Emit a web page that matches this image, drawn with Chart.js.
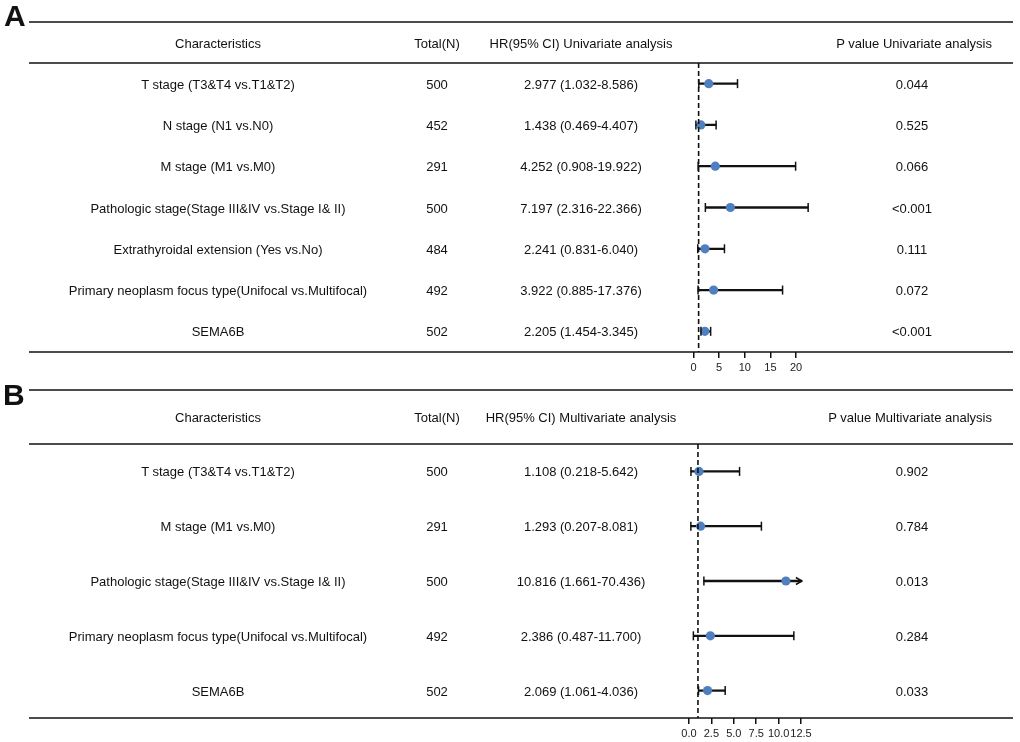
<!DOCTYPE html>
<html>
<head>
<meta charset="utf-8">
<script src="https://cdn.jsdelivr.net/npm/chart.js@4.4.1/dist/chart.umd.min.js"></script>
<style>
  html, body { margin: 0; padding: 0; background: #fff; }
  #page { position: relative; width: 1020px; height: 742px; overflow: hidden;
          font-family: "Liberation Sans", Arial, sans-serif; color: #111; }
  canvas { position: absolute; left: 0; }
  .t { position: absolute; font-size: 13px; white-space: nowrap; transform: translate(-50%, -50%); }
  .t.r { transform: translate(-100%, -50%); }
  .panel { position: absolute; font-size: 30px; font-weight: bold; line-height: 1; }
</style>
</head>
<body>
<div id="page">
  <canvas id="chartA" width="1020" height="385" style="top:0px"></canvas>
  <canvas id="chartB" width="1020" height="362" style="top:380px"></canvas>
  <div class="panel" style="left:4px;top:1px">A</div>
  <div class="panel" style="left:3px;top:380px">B</div>
</div>
<script>
// Panel A - univariate
const labelsA = ["T stage (T3&T4 vs.T1&T2)", "N stage (N1 vs.N0)", "M stage (M1 vs.M0)",
  "Pathologic stage(Stage III&IV vs.Stage I& II)", "Extrathyroidal extension (Yes vs.No)",
  "Primary neoplasm focus type(Unifocal vs.Multifocal)", "SEMA6B"];
const totalA = [500, 452, 291, 500, 484, 492, 502];
const hrA = [2.977, 1.438, 4.252, 7.197, 2.241, 3.922, 2.205];
const lowA = [1.032, 0.469, 0.908, 2.316, 0.831, 0.885, 1.454];
const highA = [8.586, 4.407, 19.922, 22.366, 6.040, 17.376, 3.345];
const pA = ["0.044", "0.525", "0.066", "<0.001", "0.111", "0.072", "<0.001"];
const ticksA = [0, 5, 10, 15, 20];

// Panel B - multivariate
const labelsB = ["T stage (T3&T4 vs.T1&T2)", "M stage (M1 vs.M0)",
  "Pathologic stage(Stage III&IV vs.Stage I& II)",
  "Primary neoplasm focus type(Unifocal vs.Multifocal)", "SEMA6B"];
const totalB = [500, 291, 500, 492, 502];
const hrB = [1.108, 1.293, 10.816, 2.386, 2.069];
const lowB = [0.218, 0.207, 1.661, 0.487, 1.061];
const highB = [5.642, 8.081, 70.436, 11.700, 4.036];
const pB = ["0.902", "0.784", "0.013", "0.284", "0.033"];
const ticksB = [0, 2.5, 5, 7.5, 10, 12.5];

const page = document.getElementById("page");
const ink = "#111";
const dotColor = "#4f7fbf";

// column centres of the table
const colChar = 218, colTotal = 437, colHR = 581, colP = 912, pHeadRight = 992;

function addText(txt, x, y, right) {
  const d = document.createElement("div");
  d.className = right ? "t r" : "t";
  d.textContent = txt;
  d.style.left = x + "px";
  d.style.top = y + "px";
  page.appendChild(d);
  return d;
}

function dibujarPanel(p) {
  let hecho = false;
  const tabla = {
    id: "tabla",
    beforeDraw(chart) {
      const ctx = chart.ctx, a = chart.chartArea;
      ctx.save();
      ctx.strokeStyle = ink;
      ctx.lineWidth = 1.6;
      [p.topLine, a.top, a.bottom].forEach(y => {
        ctx.beginPath();
        ctx.moveTo(29, y);
        ctx.lineTo(1013, y);
        ctx.stroke();
      });
      ctx.restore();
    },
    afterDatasetsDraw(chart) {
      const ctx = chart.ctx, a = chart.chartArea;
      const xs = chart.scales.x, ys = chart.scales.y;
      ctx.save();
      ctx.strokeStyle = ink;
      ctx.fillStyle = ink;
      ctx.lineWidth = 1.5;
      p.low.forEach((lo, i) => {
        const y = ys.getPixelForValue(i);
        const xl = xs.getPixelForValue(lo);
        ctx.beginPath();
        ctx.moveTo(xl, y - 4.5); ctx.lineTo(xl, y + 4.5);
        ctx.stroke();
        const hi = p.high[i];
        if (hi <= xs.max) {
          const xh = xs.getPixelForValue(hi);
          ctx.beginPath();
          ctx.moveTo(xh, y - 4.5); ctx.lineTo(xh, y + 4.5);
          ctx.stroke();
        } else {
          // CI runs off the axis: arrow head
          ctx.beginPath();
          ctx.moveTo(a.right - 6, y - 3.5);
          ctx.lineTo(a.right, y);
          ctx.lineTo(a.right - 6, y + 3.5);
          ctx.stroke();
        }
      });
      const x1 = xs.getPixelForValue(1);
      ctx.setLineDash([5, 3]);
      ctx.lineWidth = 1.6;
      ctx.beginPath();
      ctx.moveTo(x1, a.top);
      ctx.lineTo(x1, a.bottom);
      ctx.stroke();
      ctx.restore();
    },
    afterRender(chart) {
      if (hecho) return;
      hecho = true;
      const a = chart.chartArea, ys = chart.scales.y;
      const hy = p.top + (p.topLine + a.top) / 2;
      addText("Characteristics", colChar, hy);
      addText("Total(N)", colTotal, hy);
      addText(p.hrHead, colHR, hy);
      addText(p.pHead, pHeadRight, hy, true);
      p.labels.forEach((lab, i) => {
        const y = p.top + ys.getPixelForValue(i);
        addText(lab, colChar, y);
        addText(String(p.total[i]), colTotal, y);
        addText(p.hr[i].toFixed(3) + " (" + p.low[i].toFixed(3) + "-" + p.high[i].toFixed(3) + ")", colHR, y);
        addText(p.p[i], colP, y);
      });
    }
  };

  const ctx = document.getElementById(p.id).getContext("2d");
  return new Chart(ctx, {
    type: "bar",
    data: {
      labels: p.labels,
      datasets: [
        {
          type: "bar",
          data: p.low.map((lo, i) => [lo, p.high[i]]),
          backgroundColor: ink,
          barThickness: 1.6,
          borderWidth: 0,
          clip: 0,
          order: 2
        },
        {
          type: "scatter",
          data: p.hr.map((v, i) => ({ x: v, y: i })),
          backgroundColor: dotColor,
          borderWidth: 0,
          pointRadius: 4.6,
          order: 1
        }
      ]
    },
    options: {
      indexAxis: "y",
      responsive: false,
      animation: false,
      events: [],
      layout: { padding: { left: p.left, right: 1020 - p.right, top: p.areaTop, bottom: p.padBottom } },
      plugins: { legend: { display: false }, tooltip: { enabled: false } },
      scales: {
        y: { type: "category", display: false, offset: true },
        x: {
          type: "linear",
          min: 0,
          max: p.xMax,
          border: { display: false },
          grid: { drawOnChartArea: false, drawTicks: true, tickLength: 6, color: ink, lineWidth: 1.5 },
          afterBuildTicks: s => { s.ticks = p.ticks.map(v => ({ value: v })); },
          afterFit: s => { s.height = p.axisH; },
          ticks: {
            color: "#222",
            padding: 3,
            autoSkip: false,
            maxRotation: 0,
            minRotation: 0,
            font: { family: "'Liberation Sans', Arial, sans-serif", size: 11 },
            callback: v => p.decimals ? Number(v).toFixed(1) : String(v)
          }
        }
      }
    },
    plugins: [tabla]
  });
}

dibujarPanel({
  id: "chartA", top: 0, topLine: 22, areaTop: 63, padBottom: 8, axisH: 25,
  left: 693.5, right: 811.4, xMax: 23, decimals: false,
  labels: labelsA, total: totalA, hr: hrA, low: lowA, high: highA, p: pA, ticks: ticksA,
  hrHead: "HR(95% CI) Univariate analysis", pHead: "P value Univariate analysis"
});

dibujarPanel({
  id: "chartB", top: 380, topLine: 10, areaTop: 64, padBottom: 0, axisH: 24,
  left: 689, right: 801.9, xMax: 12.6, decimals: true,
  labels: labelsB, total: totalB, hr: hrB, low: lowB, high: highB, p: pB, ticks: ticksB,
  hrHead: "HR(95% CI) Multivariate analysis", pHead: "P value Multivariate analysis"
});
</script>
</body>
</html>
